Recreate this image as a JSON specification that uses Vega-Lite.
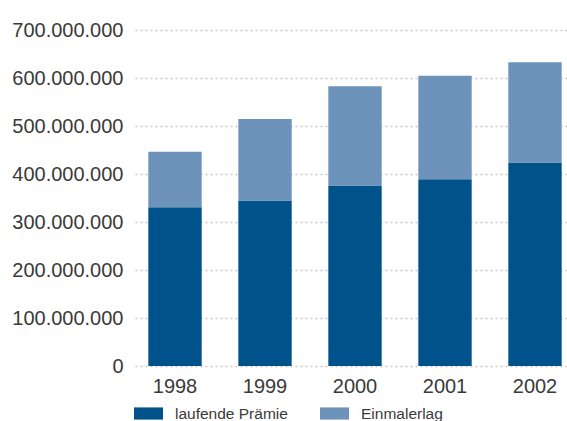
{
  "$schema": "https://vega.github.io/schema/vega-lite/v6.json",
  "width": 432,
  "height": 336,
  "padding": {"left": 135, "top": 30, "right": 0, "bottom": 55},
  "autosize": {"type": "none"},
  "background": "white",
  "config": {
    "view": {"stroke": null},
    "font": "Liberation Sans",
    "axis": {"labelFont": "Liberation Sans", "labelColor": "#3a3a3a", "labelFontSize": 20}
  },
  "data": {
    "values": [
      {"jahr": "1998", "typ": "laufende Prämie", "wert": 330600000},
      {"jahr": "1998", "typ": "Einmalerlag", "wert": 115900000},
      {"jahr": "1999", "typ": "laufende Prämie", "wert": 345000000},
      {"jahr": "1999", "typ": "Einmalerlag", "wert": 169600000},
      {"jahr": "2000", "typ": "laufende Prämie", "wert": 376000000},
      {"jahr": "2000", "typ": "Einmalerlag", "wert": 207000000},
      {"jahr": "2001", "typ": "laufende Prämie", "wert": 389000000},
      {"jahr": "2001", "typ": "Einmalerlag", "wert": 215800000},
      {"jahr": "2002", "typ": "laufende Prämie", "wert": 424000000},
      {"jahr": "2002", "typ": "Einmalerlag", "wert": 209000000}
    ]
  },
  "transform": [
    {"calculate": "datum.typ === 'laufende Prämie' ? 0 : 1", "as": "ord"}
  ],
  "mark": {"type": "bar"},
  "encoding": {
    "x": {
      "field": "jahr", "type": "nominal", "sort": null,
      "scale": {"paddingInner": 0.407, "paddingOuter": 0.1035, "align": 0.715},
      "axis": {"title": null, "labelAngle": 0, "domain": false, "ticks": false, "labelPadding": 10, "labelFontSize": 20}
    },
    "y": {
      "field": "wert", "type": "quantitative", "stack": "zero",
      "scale": {"domain": [0, 700000000], "nice": false},
      "axis": {
        "title": null, "values": [0, 100000000, 200000000, 300000000, 400000000, 500000000, 600000000, 700000000],
        "labelExpr": "replace(format(datum.value, ',d'), /,/g, '.')",
        "domain": false, "ticks": false, "labelPadding": 12,
        "grid": true, "gridColor": "#c8c8c8", "gridDash": [2, 3], "gridWidth": 1.5
      }
    },
    "color": {
      "field": "typ", "type": "nominal",
      "scale": {"domain": ["laufende Prämie", "Einmalerlag"], "range": ["#00528a", "#6d93ba"]},
      "legend": {
        "title": null, "orient": "none", "direction": "horizontal",
        "legendX": -1, "legendY": 369,
        "symbolType": "M-1,-0.42H1V0.42H-1Z", "symbolSize": 841, "symbolStrokeWidth": 0, "symbolOpacity": 1,
        "labelFont": "Liberation Sans", "labelFontSize": 15.5, "labelColor": "#3a3a3a",
        "labelOffset": 12, "columnPadding": 32, "padding": 0
      }
    },
    "order": {"field": "ord"}
  }
}
